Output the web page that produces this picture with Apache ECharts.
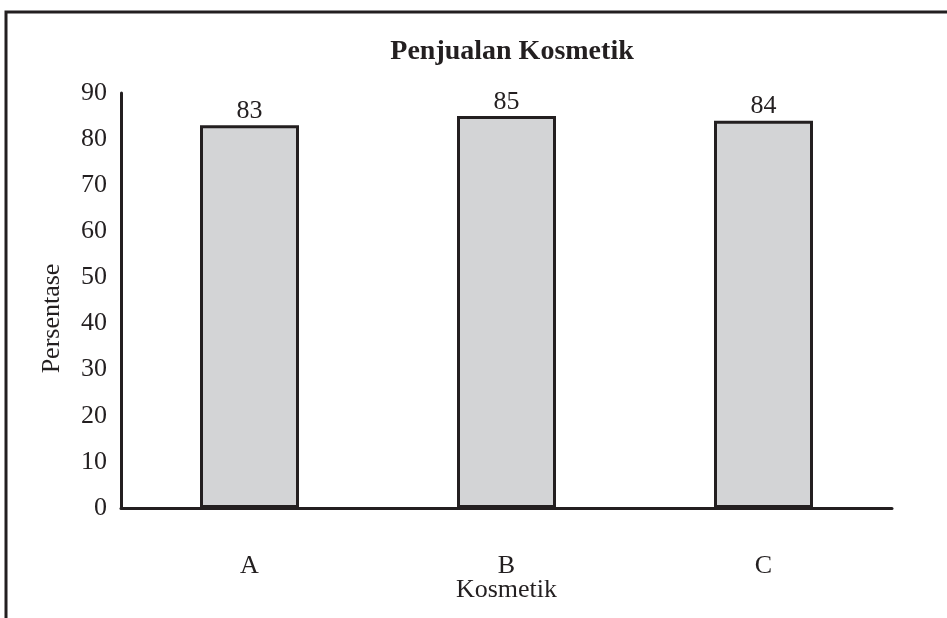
<!DOCTYPE html>
<html>
<head>
<meta charset="utf-8">
<script src="https://cdn.jsdelivr.net/npm/echarts@6/dist/echarts.min.js"></script>
<style>
  html, body { margin: 0; padding: 0; background: #fff; }
  #chart { width: 947px; height: 618px; }
</style>
</head>
<body>
<div id="chart"></div>
<script>
// Cosmetic sales percentages per product
const categories = ['A', 'B', 'C'];
const salesPercent = [83, 85, 84];
const yTicks = [0, 10, 20, 30, 40, 50, 60, 70, 80, 90];

const FONT = '"Liberation Serif", "Times New Roman", serif';
const INK = '#231f20';

const chart = echarts.init(document.getElementById('chart'), null, { renderer: 'canvas' });

chart.setOption({
  backgroundColor: '#ffffff',
  animation: false,
  title: {
    text: 'Penjualan Kosmetik',
    left: 507,
    textAlign: 'center',
    top: 33,
    textStyle: { fontFamily: FONT, fontSize: 28, fontWeight: 'bold', color: INK }
  },
  graphic: [{
    type: 'rect',
    shape: { x: 6, y: 12, width: 1200, height: 800 },
    style: { fill: null, stroke: INK, lineWidth: 3 },
    silent: true
  }],
  grid: { left: 121, right: 55, top: 93, bottom: 110 },
  xAxis: {
    type: 'category',
    data: categories,
    name: 'Kosmetik',
    nameLocation: 'middle',
    nameGap: 69,
    nameMoveOverlap: false,
    nameTextStyle: { fontFamily: FONT, fontSize: 26, color: INK },
    axisLine: { lineStyle: { color: INK, width: 3 } },
    axisTick: { show: false },
    axisLabel: { fontFamily: FONT, fontSize: 26, color: INK, margin: 45 }
  },
  yAxis: {
    type: 'value',
    min: yTicks[0],
    max: yTicks[yTicks.length - 1],
    interval: yTicks[1] - yTicks[0],
    name: 'Persentase',
    nameLocation: 'middle',
    nameGap: 56,
    nameMoveOverlap: false,
    nameTextStyle: { fontFamily: FONT, fontSize: 26, color: INK, padding: [0, 36, 0, 0] },
    axisLine: { show: true, lineStyle: { color: INK, width: 3 } },
    axisTick: { show: false },
    splitLine: { show: false },
    axisLabel: { fontFamily: FONT, fontSize: 26, color: INK, margin: 14 }
  },
  series: [{
    type: 'bar',
    data: salesPercent,
    barWidth: 99,
    itemStyle: { color: '#d3d4d6', borderColor: INK, borderWidth: 3 },
    label: {
      show: true,
      position: 'top',
      distance: 1,
      fontFamily: FONT,
      fontSize: 26,
      color: INK
    }
  }]
});
</script>
</body>
</html>
